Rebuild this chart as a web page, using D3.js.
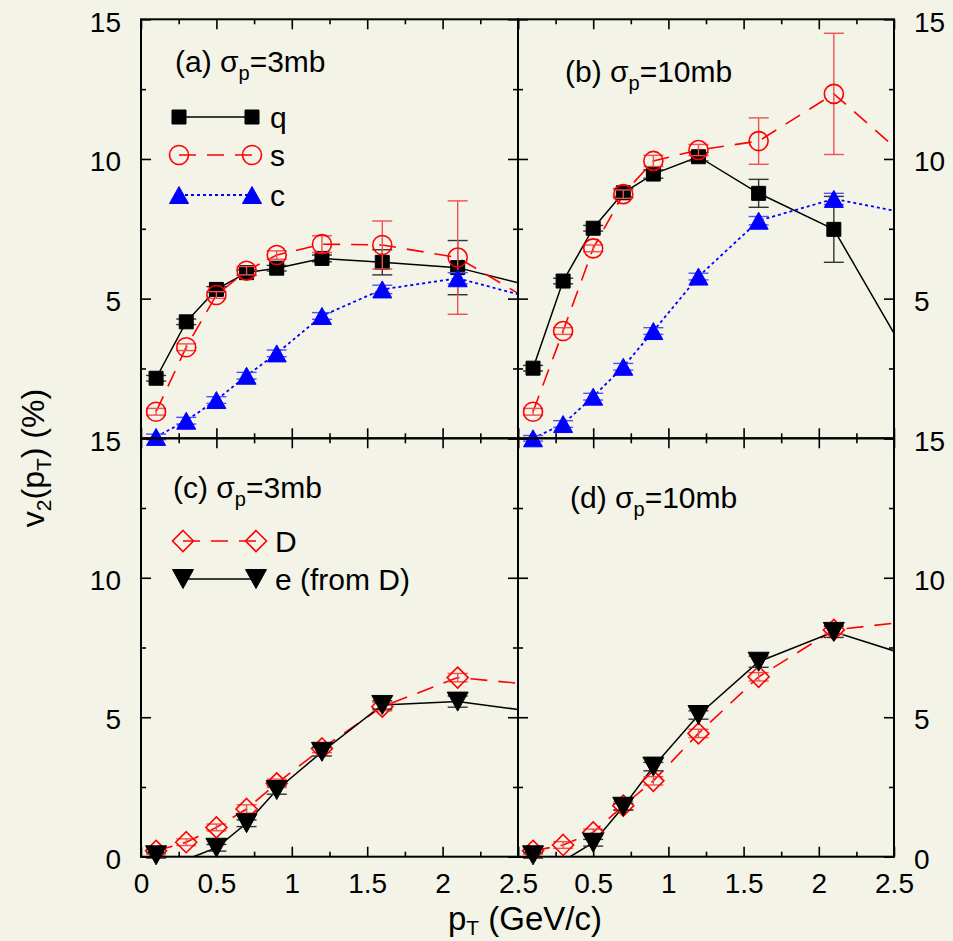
<!DOCTYPE html>
<html><head><meta charset="utf-8">
<script src="https://cdn.jsdelivr.net/npm/d3@7"></script>
<style>
html,body{margin:0;padding:0;background:#f3f3e8;}
svg{display:block;font-family:"Liberation Sans",Arial,Helvetica,sans-serif;}
</style></head><body>
<svg id="chart" width="953" height="941"></svg>
<script>
// transverse momentum bins (GeV/c)
const pT = [0.1, 0.3, 0.5, 0.7, 0.9, 1.2, 1.6, 2.1, 2.7];

// (a) sigma_p = 3 mb : quarks, strange, charm
const qA    = [2.15, 4.17, 5.33, 5.93, 6.09, 6.44, 6.30, 6.11, 5.30];
const qAerr = [0.10, 0.10, 0.10, 0.10, 0.10, 0.12, 0.45, 0.97, 0.90];
const sA    = [0.95, 3.26, 5.13, 6.00, 6.56, 6.95, 6.92, 6.47, 4.55];
const sAerr = [0.12, 0.12, 0.12, 0.15, 0.15, 0.30, 0.86, 2.03, 2.00];
const cA    = [0.05, 0.63, 1.37, 2.24, 3.04, 4.38, 5.33, 5.73, 4.87];
const cAerr = [0.10, 0.12, 0.12, 0.12, 0.12, 0.12, 0.15, 0.20, 0.20];

// (b) sigma_p = 10 mb
const qB    = [2.51, 5.63, 7.52, 8.79, 9.46, 10.08, 8.77, 7.48, 1.90];
const qBerr = [0.10, 0.10, 0.10, 0.15, 0.15, 0.15, 0.50, 1.18, 1.20];
const sB    = [0.95, 3.84, 6.80, 8.74, 9.93, 10.32, 10.64, 12.33, 9.50];
const sBerr = [0.12, 0.12, 0.12, 0.15, 0.20, 0.20, 0.83, 2.17, 2.00];
const cB    = [0.00, 0.51, 1.49, 2.56, 3.84, 5.79, 7.79, 8.57, 7.94];
const cBerr = [0.10, 0.12, 0.12, 0.12, 0.12, 0.12, 0.15, 0.20, 0.20];

// (c) sigma_p = 3 mb : D mesons and decay electrons
const dC    = [0.21, 0.52, 1.05, 1.71, 2.63, 3.88, 5.38, 6.42, 6.12];
const dCerr = [0.12, 0.12, 0.12, 0.15, 0.15, 0.15, 0.15, 0.15, 0.15];
const eC    = [0.05, -0.10, 0.32, 1.20, 2.39, 3.76, 5.44, 5.56, 5.14];
const eCerr = [0.10, 0.10, 0.12, 0.12, 0.15, 0.15, 0.15, 0.20, 0.20];

// (d) sigma_p = 10 mb
const dD    = [0.21, 0.42, 0.87, 1.83, 2.72, 4.42, 6.45, 8.13, 8.49];
const dDerr = [0.12, 0.12, 0.12, 0.15, 0.15, 0.15, 0.15, 0.15, 0.15];
const eD    = [0.05, -0.15, 0.50, 1.79, 3.23, 5.08, 6.99, 8.06, 7.04];
const eDerr = [0.10, 0.10, 0.12, 0.12, 0.15, 0.15, 0.20, 0.20, 0.20];

// axis ticks
const xMajor = [0, 0.5, 1, 1.5, 2, 2.5];
const xMinor = [0.25, 0.75, 1.25, 1.75, 2.25];
const yMajor = [0, 5, 10, 15];
const yMinor = [2.5, 7.5, 12.5];
const xLabelsLeft = [0, 0.5, 1, 1.5, 2, 2.5];
const xLabelsRight = [0.5, 1, 1.5, 2, 2.5];
const yLabelsTop = [15, 10, 5];
const yLabelsBottom = [15, 10, 5, 0];

const svg = d3.select("#chart");
const FS = 28;

const xL = d3.scaleLinear().domain([0, 2.5]).range([141, 518]);
const xR = d3.scaleLinear().domain([0, 2.5]).range([518, 894]);
const yT = d3.scaleLinear().domain([0, 15]).range([438.3, 19.3]);
const yB = d3.scaleLinear().domain([0, 15]).range([856.7, 438.3]);

// marker shapes, centred on their bounding box
const shapes = {
  square: { draw(ctx) { const h = 7; ctx.moveTo(-h, -h); ctx.lineTo(h, -h); ctx.lineTo(h, h); ctx.lineTo(-h, h); ctx.closePath(); } },
  circle: { draw(ctx) { const r = 9.5; ctx.moveTo(r, 0); ctx.arc(0, 0, r, 0, 2 * Math.PI); ctx.closePath(); } },
  triUp: { draw(ctx) { const w = 9.5, h = 8.5; ctx.moveTo(0, -h); ctx.lineTo(w, h); ctx.lineTo(-w, h); ctx.closePath(); } },
  triDown: { draw(ctx) { const w = 10.5, h = 9.5; ctx.moveTo(-w, -h); ctx.lineTo(w, -h); ctx.lineTo(0, h); ctx.closePath(); } },
  diamond: { draw(ctx) { const r = 10.5; ctx.moveTo(0, -r); ctx.lineTo(r, 0); ctx.lineTo(0, r); ctx.lineTo(-r, 0); ctx.closePath(); } }
};

const styles = {
  q: { color: "#000", err: "#333", dash: null, width: 1.5, shape: "square", fill: true },
  s: { color: "#ff0000", err: "#f05050", dash: "17,11", width: 1.6, shape: "circle", fill: false },
  c: { color: "#0000ff", err: "#5050ff", dash: "3,3", width: 1.8, shape: "triUp", fill: true },
  D: { color: "#ff0000", err: "#f05050", dash: "17,11", width: 1.6, shape: "diamond", fill: false },
  e: { color: "#000", err: "#333", dash: null, width: 1.5, shape: "triDown", fill: true }
};

const panels = [
  { id: "a", x: xL, y: yT, title: "(a) ", sigma: "=3mb", tx: 175, ty: 72,
    series: [["q", qA, qAerr], ["s", sA, sAerr], ["c", cA, cAerr]],
    legend: { x1: 179, x2: 252, tx: 270, rows: [["q", "q", 117], ["s", "s", 155], ["c", "c", 195]] } },
  { id: "b", x: xR, y: yT, title: "(b) ", sigma: "=10mb", tx: 565, ty: 82,
    series: [["q", qB, qBerr], ["s", sB, sBerr], ["c", cB, cBerr]] },
  { id: "c", x: xL, y: yB, title: "(c) ", sigma: "=3mb", tx: 173, ty: 498,
    series: [["D", dC, dCerr], ["e", eC, eCerr]],
    legend: { x1: 183, x2: 256, tx: 275, rows: [["D", "D", 541], ["e", "e (from D)", 579]] } },
  { id: "d", x: xR, y: yB, title: "(d) ", sigma: "=10mb", tx: 570, ty: 508,
    series: [["D", dD, dDerr], ["e", eD, eDerr]] }
];

const defs = svg.append("defs");

function drawMarker(g, key, cx, cy) {
  const st = styles[key];
  g.append("path")
    .attr("transform", `translate(${cx},${cy})`)
    .attr("d", d3.symbol().type(shapes[st.shape])())
    .attr("fill", st.fill ? st.color : "none")
    .attr("stroke", st.color)
    .attr("stroke-width", st.fill ? 1 : 1.6);
}

panels.forEach(p => {
  const [x0, x1] = p.x.range();
  const [y1, y0] = p.y.range();
  const g = svg.append("g");

  defs.append("clipPath").attr("id", "clip-" + p.id)
    .append("rect").attr("x", x0).attr("y", y0).attr("width", x1 - x0).attr("height", y1 - y0);

  // curves
  const line = d3.line().x((d, i) => p.x(pT[i])).y(d => p.y(d));
  p.series.forEach(([key, vals]) => {
    const st = styles[key];
    g.append("path")
      .attr("clip-path", `url(#clip-${p.id})`)
      .attr("d", line(vals))
      .attr("fill", "none")
      .attr("stroke", st.color)
      .attr("stroke-width", st.width)
      .attr("stroke-dasharray", st.dash);
  });

  // error bars and markers (points inside the plotting range only)
  p.series.forEach(([key, vals, errs]) => {
    const st = styles[key];
    const sg = g.append("g");
    vals.forEach((v, i) => {
      if (pT[i] > 2.5 || v < 0 || v > 15) return;
      const cx = p.x(pT[i]);
      const yl = p.y(v - errs[i]), yh = p.y(v + errs[i]);
      sg.append("line").attr("x1", cx).attr("x2", cx).attr("y1", yl).attr("y2", yh)
        .attr("stroke", st.err).attr("stroke-width", 1.4);
      [yl, yh].forEach(yy => sg.append("line")
        .attr("x1", cx - 10).attr("x2", cx + 10).attr("y1", yy).attr("y2", yy)
        .attr("stroke", st.err).attr("stroke-width", 1.4));
    });
    vals.forEach((v, i) => {
      if (pT[i] > 2.5 || v < 0 || v > 15) return;
      drawMarker(sg, key, p.x(pT[i]), p.y(v));
    });
  });

  // frame with inward ticks on all four sides
  const tickAxis = (gen, scale, vals, size, tx, ty) => {
    const a = svg.append("g").attr("transform", `translate(${tx},${ty})`)
      .call(gen(scale).tickValues(vals).tickSize(size).tickFormat(""));
    a.select(".domain").remove();
    a.selectAll(".tick line").attr("stroke", "#000").attr("stroke-width", 1.6);
  };
  tickAxis(d3.axisBottom, p.x, xMajor, -10, 0, y1);
  tickAxis(d3.axisBottom, p.x, xMinor, -5, 0, y1);
  tickAxis(d3.axisTop, p.x, xMajor, -10, 0, y0);
  tickAxis(d3.axisTop, p.x, xMinor, -5, 0, y0);
  tickAxis(d3.axisLeft, p.y, yMajor, -10, x0, 0);
  tickAxis(d3.axisLeft, p.y, yMinor, -5, x0, 0);
  tickAxis(d3.axisRight, p.y, yMajor, -10, x1, 0);
  tickAxis(d3.axisRight, p.y, yMinor, -5, x1, 0);

  svg.append("rect").attr("x", x0).attr("y", y0).attr("width", x1 - x0).attr("height", y1 - y0)
    .attr("fill", "none").attr("stroke", "#000").attr("stroke-width", 2);

  // panel title
  const t = svg.append("text").attr("x", p.tx).attr("y", p.ty).attr("font-size", 30).attr("fill", "#000");
  t.append("tspan").text(p.title + "σ");
  t.append("tspan").attr("font-size", 20).attr("dy", 8).text("p");
  t.append("tspan").attr("dy", -8).text(p.sigma);

  // legend
  if (p.legend) {
    const L = p.legend;
    L.rows.forEach(([key, label, ly]) => {
      const st = styles[key];
      svg.append("line").attr("x1", L.x1).attr("x2", L.x2).attr("y1", ly).attr("y2", ly)
        .attr("stroke", st.color).attr("stroke-width", st.width).attr("stroke-dasharray", st.dash);
      drawMarker(svg, key, L.x1, ly);
      drawMarker(svg, key, L.x2, ly);
      svg.append("text").attr("x", L.tx).attr("y", ly + 11).attr("font-size", 30).text(label);
    });
  }
});

// tick labels
function labelAxis(gen, scale, vals, tx, ty, pad) {
  const a = svg.append("g").attr("transform", `translate(${tx},${ty})`)
    .call(gen(scale).tickValues(vals).tickSize(0).tickPadding(pad).tickFormat(d3.format("")));
  a.select(".domain").remove();
  a.selectAll("text").attr("font-size", FS).attr("font-family", null).attr("fill", "#000");
  return a;
}
labelAxis(d3.axisLeft, yT, yLabelsTop, 141, 0, 20).selectAll("text").attr("dy", "0.42em");
labelAxis(d3.axisLeft, yB, yLabelsBottom, 141, 0, 20).selectAll("text").attr("dy", "0.42em");
labelAxis(d3.axisRight, yT, yLabelsTop, 894, 0, 20).selectAll("text").attr("dy", "0.42em");
labelAxis(d3.axisRight, yB, yLabelsBottom, 894, 0, 20).selectAll("text").attr("dy", "0.42em");
labelAxis(d3.axisBottom, xL, xLabelsLeft, 0, 856.7, 16);
labelAxis(d3.axisBottom, xR, xLabelsRight, 0, 856.7, 16);

// axis titles
const xt = svg.append("text").attr("x", 525).attr("y", 930).attr("text-anchor", "middle").attr("font-size", 33);
xt.append("tspan").text("p");
xt.append("tspan").attr("font-size", 21).attr("dy", 5).text("T");
xt.append("tspan").attr("dy", -5).text(" (GeV/c)");

const yt = svg.append("text").attr("transform", "translate(44,458) rotate(-90)").attr("text-anchor", "middle").attr("font-size", 32);
yt.append("tspan").text("v");
yt.append("tspan").attr("font-size", 21).attr("dy", 7).text("2");
yt.append("tspan").attr("dy", -7).text("(p");
yt.append("tspan").attr("font-size", 21).attr("dy", 7).text("T");
yt.append("tspan").attr("dy", -7).text(") (%)");
</script>
</body></html>
